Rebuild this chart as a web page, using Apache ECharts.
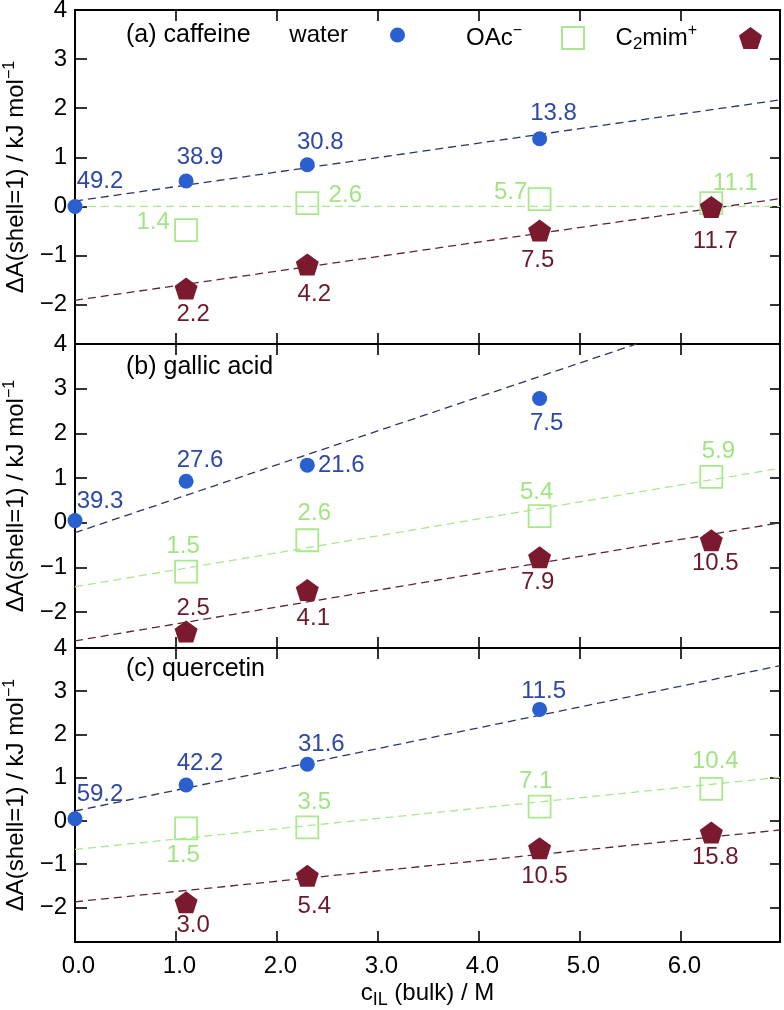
<!DOCTYPE html>
<html><head><meta charset="utf-8">
<script src="https://cdn.jsdelivr.net/npm/echarts@6/dist/echarts.min.js"></script>
<style>html,body{margin:0;padding:0;background:#fff}#c{width:784px;height:1010px}</style>
</head><body><div id="c"></div>
<script>
// ---------- data ----------
const panelTitles = ['(a) caffeine', '(b) gallic acid', '(c) quercetin'];
const xTickValues = [0, 1, 2, 3, 4, 5, 6];
const yTickValues = [-2, -1, 0, 1, 2, 3, 4];
const concWater = [0, 1.1, 2.3, 4.6];
const concIon = [1.1, 2.3, 4.6, 6.3];
const fitX = [0, 6.98];

// panel (a) caffeine
const waterA = [0.00, 0.52, 0.85, 1.38];
const oacA = [-0.48, 0.07, 0.15, 0.07];
const mimA = [-1.67, -1.18, -0.49, -0.01];
const waterLabA = [49.2, 38.9, 30.8, 13.8];
const oacLabA = [1.4, 2.6, 5.7, 11.1];
const mimLabA = [2.2, 4.2, 7.5, 11.7];
const fitWaterA = [0.11, 2.17];
const fitOacA = [0.00, 0.00];
const fitMimA = [-1.91, 0.16];

// panel (b) gallic acid
const waterB = [0.05, 0.93, 1.29, 2.78];
const oacB = [-1.09, -0.39, 0.15, 1.03];
const mimB = [-2.43, -1.50, -0.77, -0.39];
const waterLabB = [39.3, 27.6, 21.6, 7.5];
const oacLabB = [1.5, 2.6, 5.4, 5.9];
const mimLabB = [2.5, 4.1, 7.9, 10.5];
const fitWaterB = [-0.22, 5.08];
const fitOacB = [-1.43, 1.22];
const fitMimB = [-2.64, 0.00];

// panel (c) quercetin
const waterC = [0.05, 0.83, 1.31, 2.58];
const oacC = [-0.17, -0.15, 0.33, 0.74];
const mimC = [-1.88, -1.27, -0.63, -0.27];
const waterLabC = [59.2, 42.2, 31.6, 11.5];
const oacLabC = [1.5, 3.5, 7.1, 10.4];
const mimLabC = [3.0, 5.4, 10.5, 15.8];
const fitWaterC = [0.23, 3.59];
const fitOacC = [-0.66, 1.01];
const fitMimC = [-1.87, -0.21];

// ---------- layout / style ----------
const FONT = 'Liberation Sans, Arial, Helvetica, sans-serif';
const FS = 24;
const grids = [
  {left: 75, right: 4, top: 10, height: 334, containLabel: false, outerBoundsMode: 'none'},
  {left: 75, right: 4, top: 344, height: 304, containLabel: false, outerBoundsMode: 'none'},
  {left: 75, right: 4, top: 648, height: 294, containLabel: false, outerBoundsMode: 'none'}
];
const titleTops = [23, 355, 657];
const col = {
  water: '#2a5fcf', waterLab: '#2e48a6', waterFit: '#2c3468',
  oac: '#a8e98b', oacLab: '#a2e485', oacFit: '#a8e98b',
  mim: '#7b1a2f', mimLab: '#6c1a2b', mimFit: '#5e2436'
};
const labelOffsets = {
  water: [[[25,-25],[14,-24],[13,-22],[14,-25]], [[25,-19],[14,-21],[34,0],[7,25]], [[25,-24],[14,-22],[14,-20],[4,-18]]],
  oac:   [[[-33,-8],[38,-8],[-29,-7],[24,-20]], [[-3,-25],[7,-27],[-3,-24],[7,-25]], [[-3,27],[7,-25],[-4,-25],[4,-28]]],
  mim:   [[[7,26],[7,30],[-2,30],[4,34]], [[7,-23],[6,28],[-2,25],[4,23]], [[7,23],[7,31],[5,28],[4,25]]]
};
const pentagon = 'path://M50,0L97.55,34.55L79.39,90.45L20.61,90.45L2.45,34.55Z';

const panels = [
  {water: waterA, oac: oacA, mim: mimA, wl: waterLabA, ol: oacLabA, ml: mimLabA, fw: fitWaterA, fo: fitOacA, fm: fitMimA},
  {water: waterB, oac: oacB, mim: mimB, wl: waterLabB, ol: oacLabB, ml: mimLabB, fw: fitWaterB, fo: fitOacB, fm: fitMimB},
  {water: waterC, oac: oacC, mim: mimC, wl: waterLabC, ol: oacLabC, ml: mimLabC, fw: fitWaterC, fo: fitOacC, fm: fitMimC}
];

const minusFmt = v => (v < 0 ? '\u2212' + Math.abs(v) : String(v));

const xAxis = [], yAxis = [], series = [], title = [];
panels.forEach((p, i) => {
  const last = i === 2;
  xAxis.push({
    gridIndex: i, type: 'value', min: 0, max: 6.98, position: 'bottom',
    axisLine: {show: true, onZero: false, lineStyle: {color: '#000', width: 2}},
    axisTick: {show: true, inside: true, length: 11, customValues: xTickValues, lineStyle: {color: '#000', width: 1.6}},
    axisLabel: {show: last, customValues: xTickValues, color: '#000', fontSize: FS, fontFamily: FONT, margin: 12,
      padding: [0, 0, 0, 7], formatter: v => v.toFixed(1)},
    splitLine: {show: false},
    name: last ? '{t|c}{s|IL}{t| (bulk) / M}' : '', nameLocation: 'middle', nameGap: 35,
    nameTextStyle: {color: '#000', fontFamily: FONT, rich: {
      t: {fontSize: FS, fontFamily: FONT, color: '#000', lineHeight: 32, verticalAlign: 'middle'},
      s: {fontSize: 18, fontFamily: FONT, color: '#000', lineHeight: 18, verticalAlign: 'bottom'}
    }}
  });
  xAxis.push({
    gridIndex: i, type: 'value', min: 0, max: 6.98, position: 'top',
    axisLine: {show: true, onZero: false, lineStyle: {color: '#000', width: 2}},
    axisTick: {show: true, inside: true, length: 11, customValues: xTickValues, lineStyle: {color: '#000', width: 1.6}},
    axisLabel: {show: false}, splitLine: {show: false}
  });
  yAxis.push({
    gridIndex: i, type: 'value', min: -2.8, max: 4, position: 'left',
    axisLine: {show: true, onZero: false, lineStyle: {color: '#000', width: 2}},
    axisTick: {show: true, inside: true, length: 12, customValues: yTickValues, lineStyle: {color: '#000', width: 1.6}},
    axisLabel: {show: true, customValues: yTickValues, color: '#000', fontSize: FS, fontFamily: FONT, margin: 8, formatter: minusFmt},
    splitLine: {show: false},
    name: '{t|\u0394A(shell=1) / kJ mol}{p|\u22121}', nameLocation: 'middle', nameGap: 43, nameRotate: 90,
    nameTextStyle: {color: '#000', fontFamily: FONT, rich: {
      t: {fontSize: FS, fontFamily: FONT, color: '#000', lineHeight: 30, verticalAlign: 'middle'},
      p: {fontSize: 16, fontFamily: FONT, color: '#000', lineHeight: 16, verticalAlign: 'top'}
    }}
  });
  yAxis.push({
    gridIndex: i, type: 'value', min: -2.8, max: 4, position: 'right',
    axisLine: {show: true, onZero: false, lineStyle: {color: '#000', width: 2}},
    axisTick: {show: true, inside: true, length: 10, customValues: yTickValues, lineStyle: {color: '#000', width: 1.6}},
    axisLabel: {show: false}, splitLine: {show: false}
  });
  title.push({text: panelTitles[i], left: 126, top: titleTops[i], padding: 0,
    textStyle: {fontSize: 25, fontWeight: 'normal', color: '#000', fontFamily: FONT}});

  const xi = i * 2, yi = i * 2;
  const fitLine = (vals, color, z) => ({
    type: 'line', xAxisIndex: xi, yAxisIndex: yi, symbol: 'none', silent: true, z: z,
    data: fitX.map((x, k) => [x, vals[k]]),
    lineStyle: {color: color, width: 1.3, type: [8, 5]}, clip: true
  });
  series.push(fitLine(p.fw, col.waterFit, 1));
  series.push(fitLine(p.fo, col.oacFit, 1));
  series.push(fitLine(p.fm, col.mimFit, 1));

  const pts = (xs, ys, labs, offs, labColor) => xs.map((x, k) => ({
    value: [x, ys[k]],
    label: {show: true, position: 'inside', offset: offs[k], formatter: labs[k].toFixed(1),
      color: labColor, fontSize: FS, fontFamily: FONT}
  }));
  series.push({
    name: 'water', type: 'scatter', xAxisIndex: xi, yAxisIndex: yi, clip: false, z: 3,
    symbol: 'circle', symbolSize: 15, itemStyle: {color: col.water, opacity: 1},
    data: pts(concWater, p.water, p.wl, labelOffsets.water[i], col.waterLab)
  });
  series.push({
    name: 'OAc', type: 'scatter', xAxisIndex: xi, yAxisIndex: yi, clip: false, z: 3,
    symbol: 'rect', symbolSize: 22,
    itemStyle: {color: 'rgba(255,255,255,0)', borderColor: col.oac, borderWidth: 1.8, opacity: 1},
    data: pts(concIon, p.oac, p.ol, labelOffsets.oac[i], col.oacLab)
  });
  series.push({
    name: 'C2mim', type: 'scatter', xAxisIndex: xi, yAxisIndex: yi, clip: false, z: 4,
    symbol: pentagon, symbolSize: [23, 22], itemStyle: {color: col.mim, opacity: 1},
    data: pts(concIon, p.mim, p.ml, labelOffsets.mim[i], col.mimLab)
  });
});

const legRich = {
  t: {fontSize: FS, fontFamily: FONT, color: '#000', lineHeight: 30, verticalAlign: 'middle'},
  p: {fontSize: 16, fontFamily: FONT, color: '#000', lineHeight: 16, verticalAlign: 'top'},
  s: {fontSize: 17, fontFamily: FONT, color: '#000', lineHeight: 17, verticalAlign: 'bottom'}
};
const legFmt = n => n === 'OAc' ? '{t|OAc}{p|\u2212}' : n === 'C2mim' ? '{t|C}{s|2}{t|mim}{p|+}' : '{t|' + n + '}';
const mkLegend = (name, right, size, gap) => ({
  data: [name], right: right, top: 23, orient: 'horizontal', align: 'right', padding: 0,
  itemWidth: size[0], itemHeight: size[1], selectedMode: false, formatter: legFmt,
  textStyle: {fontSize: FS, fontFamily: FONT, color: '#000', padding: [0, gap, 0, 0], rich: legRich}
});

const chart = echarts.init(document.getElementById('c'), null, {renderer: 'canvas'});
chart.setOption({
  animation: false,
  backgroundColor: '#fff',
  textStyle: {fontFamily: FONT},
  grid: grids,
  title: title,
  legend: [
    mkLegend('water', 379, [15, 15], 37),
    mkLegend('OAc', 199, [22, 22], 35),
    mkLegend('C2mim', 22, [23, 22], 37)
  ],
  xAxis: xAxis,
  yAxis: yAxis,
  series: series
});
</script></body></html>
